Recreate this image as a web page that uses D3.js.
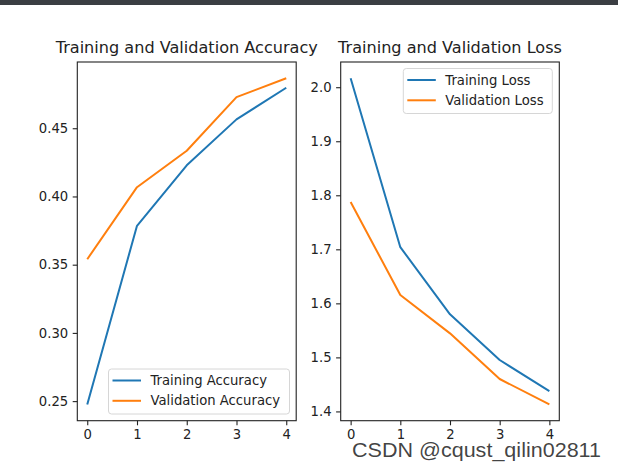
<!DOCTYPE html>
<html>
<head>
<meta charset="utf-8">
<script src="https://cdn.jsdelivr.net/npm/d3@7"></script>
<style>
  html, body { margin: 0; padding: 0; background: #fff; }
  svg { display: block; }
  text { font-family: "DejaVu Sans", sans-serif; fill: #222; }
</style>
</head>
<body>
<svg id="chart" width="618" height="470"></svg>
<script>
// ---- data ----
const epochs = [0, 1, 2, 3, 4];
const trainingAccuracy = [0.2476, 0.3785, 0.4228, 0.4565, 0.4797];
const validationAccuracy = [0.3540, 0.4068, 0.4335, 0.4728, 0.4866];
const trainingLoss = [2.0165, 1.7040, 1.5797, 1.4952, 1.4375];
const validationLoss = [1.7876, 1.6154, 1.5445, 1.4600, 1.4130];
const xTicks = [0, 1, 2, 3, 4];
const accTicks = [0.25, 0.30, 0.35, 0.40, 0.45];
const lossTicks = [1.4, 1.5, 1.6, 1.7, 1.8, 1.9, 2.0];
const accTitle = "Training and Validation Accuracy";
const lossTitle = "Training and Validation Loss";
const accLabels = ["Training Accuracy", "Validation Accuracy"];
const lossLabels = ["Training Loss", "Validation Loss"];
const colors = ["#1f77b4", "#ff7f0e"];
const watermark = "CSDN @cqust_qilin02811";

const svg = d3.select("#chart");

// top dark bar
svg.append("rect").attr("x", 0).attr("y", 0).attr("width", 618).attr("height", 5).attr("fill", "#3b3e43");

function padded(vals) {
  const lo = d3.min(vals), hi = d3.max(vals), r = hi - lo;
  return [lo - 0.05 * r, hi + 0.05 * r];
}

function panel(opts) {
  const { left, right, top, bottom, series, yTicks, yFmt, title, labels, legend } = opts;
  const x = d3.scaleLinear().domain([-0.2, 4.2]).range([left, right]);
  const y = d3.scaleLinear().domain(padded(series.flat())).range([bottom, top]);
  const g = svg.append("g");

  // lines
  const line = d3.line().x((d, i) => x(epochs[i])).y(d => y(d));
  series.forEach((s, i) => {
    g.append("path").datum(s).attr("d", line)
      .attr("fill", "none").attr("stroke", colors[i]).attr("stroke-width", 2)
      .attr("stroke-linejoin", "round").attr("stroke-linecap", "butt");
  });

  // axes
  const xAxis = d3.axisBottom(x).tickValues(xTicks).tickFormat(d3.format("d")).tickSizeInner(4.6).tickSizeOuter(0).tickPadding(4.5);
  const yAxis = d3.axisLeft(y).tickValues(yTicks).tickFormat(yFmt).tickSizeInner(4.6).tickSizeOuter(0).tickPadding(4.5);
  const gx = g.append("g").attr("transform", `translate(0,${bottom})`).call(xAxis);
  const gy = g.append("g").attr("transform", `translate(${left},0)`).call(yAxis);
  [gx, gy].forEach(a => {
    a.select(".domain").remove();
    a.selectAll("line").attr("stroke", "#222").attr("stroke-width", 1.1);
    a.selectAll("text").style("font-family", "DejaVu Sans, sans-serif").style("font-size", "13.2px").attr("fill", "#222");
  });

  // frame
  g.append("rect").attr("x", left).attr("y", top).attr("width", right - left).attr("height", bottom - top)
    .attr("fill", "none").attr("stroke", "#222").attr("stroke-width", 1.1);

  // title
  g.append("text").attr("x", (left + right) / 2).attr("y", top - 9.5)
    .attr("text-anchor", "middle").style("font-size", "16.1px").text(title);

  // legend
  const lg = g.append("g");
  lg.append("rect").attr("x", legend.x).attr("y", legend.y).attr("width", legend.w).attr("height", legend.h)
    .attr("rx", 3).attr("fill", "#fff").attr("fill-opacity", 0.8).attr("stroke", "#d6d6d6").attr("stroke-width", 1);
  labels.forEach((lab, i) => {
    const cy = legend.y + 11.5 + i * 20.3;
    lg.append("line").attr("x1", legend.x + 4).attr("x2", legend.x + 32.5).attr("y1", cy).attr("y2", cy)
      .attr("stroke", colors[i]).attr("stroke-width", 2);
    lg.append("text").attr("x", legend.x + 42).attr("y", cy).attr("dy", "0.35em")
      .style("font-size", "13.2px").text(lab);
  });
}

panel({
  left: 77.3, right: 296.2, top: 62, bottom: 420.7,
  series: [trainingAccuracy, validationAccuracy],
  yTicks: accTicks, yFmt: d3.format(".2f"), title: accTitle, labels: accLabels,
  legend: { x: 108.5, y: 369, w: 181, h: 45 }
});

panel({
  left: 340.7, right: 559.3, top: 62, bottom: 420.7,
  series: [trainingLoss, validationLoss],
  yTicks: lossTicks, yFmt: d3.format(".1f"), title: lossTitle, labels: lossLabels,
  legend: { x: 403.3, y: 68.5, w: 149, h: 45 }
});

// watermark
svg.append("text").attr("x", 352).attr("y", 457)
  .style("font-family", "Liberation Sans, Arial, sans-serif").style("font-size", "21px")
  .attr("textLength", 249).attr("lengthAdjust", "spacingAndGlyphs")
  .attr("fill", "#a6a6a6").attr("fill-opacity", 0.85)
  .text(watermark);
</script>
</body>
</html>
